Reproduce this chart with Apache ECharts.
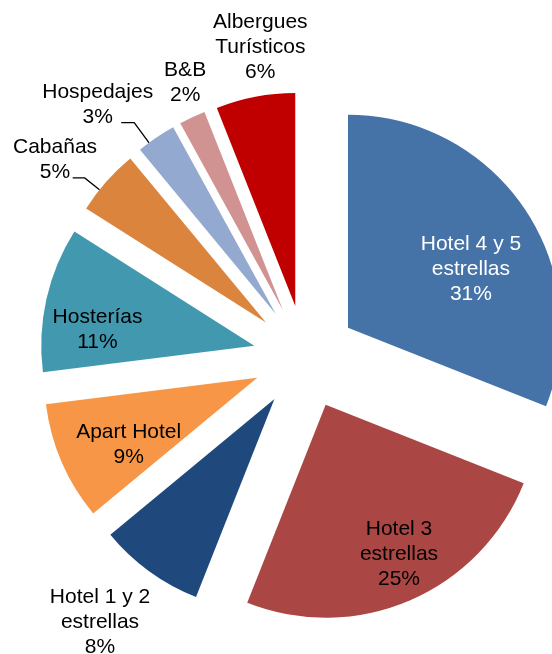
<!DOCTYPE html>
<html>
<head>
<meta charset="utf-8">
<script src="https://cdn.jsdelivr.net/npm/echarts@6/dist/echarts.min.js"></script>
<style>
    html, body { margin: 0; padding: 0; background: #fff; }
    #main { width: 552px; height: 654px; }
</style>
</head>
<body>
<div id="main"></div>
<script type="text/javascript">
    // datos (% del total)
    var categorias = ['Hotel 4 y 5 estrellas', 'Hotel 3 estrellas', 'Hotel 1 y 2 estrellas', 'Apart Hotel',
        'Hosterías', 'Cabañas', 'Hospedajes', 'B&B', 'Albergues Turísticos'];
    var valores = [31, 25, 8, 9, 11, 5, 3, 2, 6];

    // estilo
    var colores = ['#4572A7', '#AA4643', '#1F497D', '#F79646', '#4198AF', '#DB843D', '#93A9CF', '#D19392', '#C00000'];
    var CX = 305, CY = 357, R = 213, OFF = 52;
    // label placement from the slice tip: [distance / radius, angle shift (deg)]
    var etiquetas = [
        [0.64, 8.6], [0.78, -2.8], [1.33, 2], [0.68, -4], [0.74, -6.7],
        [1.25, -3.8], [1.29, -6.2], [1.16, 1.9], [1.225, 3.1]
    ];
    // leader lines: [radial segment, horizontal segment, angle shift (deg)]
    var guias = { 5: [19, 12, -2.8], 6: [25, 13, -2.3] };

    var total = valores.reduce(function (a, b) { return a + b; }, 0);
    var acum = [];
    valores.reduce(function (a, v, i) { acum[i] = a; return a + v; }, 0);

    function nombreEnLineas(n) {
        return n.replace(' estrellas', '\nestrellas').replace('Albergues ', 'Albergues\n');
    }

    var chartDom = document.getElementById('main');
    var myChart = echarts.init(chartDom, null, { renderer: 'canvas' });

    // exploded pie: every slice is its own pie, its centre pushed out along the slice's middle angle
    var series = valores.map(function (v, i) {
        var mid = (acum[i] + v / 2) / total * 2 * Math.PI;
        var px = CX + OFF * Math.sin(mid);
        var py = CY - OFF * Math.cos(mid);
        return {
            type: 'pie',
            center: [px, py],
            radius: R,
            startAngle: 90 - acum[i] / total * 360,
            clockwise: true,
            silent: true,
            avoidLabelOverlap: false,
            label: {
                position: guias[i] ? 'outside' : 'inside',
                fontFamily: 'Liberation Sans, Arial, sans-serif',
                fontSize: 21,
                lineHeight: 25,
                align: 'center',
                color: i === 0 ? '#ffffff' : '#000000',
                formatter: function (p) {
                    return nombreEnLineas(p.name) + '\n' + Math.round(p.percent) + '%';
                }
            },
            labelLine: {
                show: !!guias[i],
                lineStyle: { color: '#000000', width: 1.3 }
            },
            labelLayout: function (params) {
                if (params.dataIndex !== 0) return {};
                var a = mid + etiquetas[i][1] * Math.PI / 180;
                var t = etiquetas[i][0] * R;
                var res = {
                    x: px + t * Math.sin(a),
                    y: py - t * Math.cos(a),
                    align: 'center',
                    verticalAlign: 'middle'
                };
                if (guias[i]) {
                    var g = mid + guias[i][2] * Math.PI / 180;
                    var p0 = [px + R * Math.sin(g), py - R * Math.cos(g)];
                    var p1 = [p0[0] + guias[i][0] * Math.sin(g), p0[1] - guias[i][0] * Math.cos(g)];
                    var p2 = [p1[0] - guias[i][1], p1[1]];
                    res.labelLinePoints = [p0, p1, p2];
                }
                return res;
            },
            data: [
                { name: categorias[i], value: v, itemStyle: { color: colores[i] } },
                {
                    name: '', value: total - v,
                    itemStyle: { color: 'rgba(0,0,0,0)' },
                    label: { show: false }, labelLine: { show: false }
                }
            ]
        };
    });

    var option = {
        animation: false,
        series: series
    };

    myChart.setOption(option);
    window.addEventListener('resize', myChart.resize);
</script>
</body>
</html>
